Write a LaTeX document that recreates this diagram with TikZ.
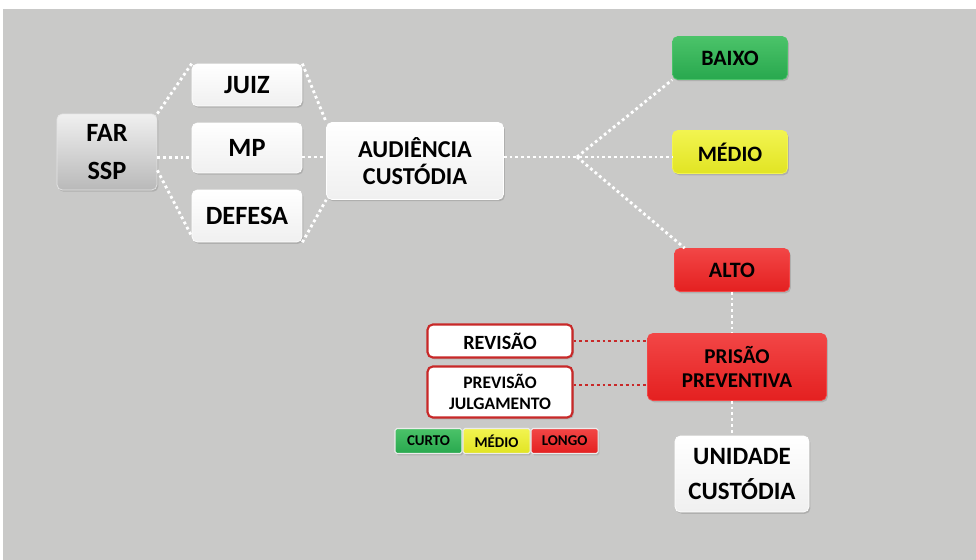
\documentclass[tikz,border=0pt]{standalone}
\usepackage{fontspec}
\setmainfont{Carlito}
\usetikzlibrary{positioning, shadows}
\definecolor{fundo}{RGB}{201,201,200}
\definecolor{verde}{RGB}{40,168,78}
\definecolor{verdeclaro}{RGB}{75,195,105}
\definecolor{amarelo}{RGB}{225,228,35}
\definecolor{amareloclaro}{RGB}{242,244,80}
\definecolor{vermelho}{RGB}{228,32,32}
\definecolor{vermelhoclaro}{RGB}{242,70,70}
\definecolor{linhavermelha}{RGB}{200,40,40}
\tikzset{
caixa/.style={rounded corners=3pt, align=center, font=\bfseries, inner sep=1pt,
  drop shadow={opacity=0.35, shadow xshift=0.8pt, shadow yshift=-1pt}}, % base of every box
branca/.style={caixa, top color=white, bottom color=gray!12, draw=white},
cinza/.style={caixa, top color=gray!12, bottom color=gray!55, draw=gray!20},
verdebox/.style={caixa, top color=verdeclaro, bottom color=verde, draw=verdeclaro},
amarelobox/.style={caixa, top color=amareloclaro, bottom color=amarelo, draw=amareloclaro},
vermelhobox/.style={caixa, top color=vermelhoclaro, bottom color=vermelho, draw=vermelhoclaro},
bordavermelha/.style={caixa, fill=white, draw=linhavermelha, line width=1.2pt},
legenda/.style={caixa, rounded corners=1pt, draw=white!85!gray, line width=0.6pt,
  minimum width=1.34cm, minimum height=0.5cm, font=\bfseries\fontsize{8.5}{10}\selectfont},
pontos/.style={draw=white, line width=1.6pt, dash pattern=on 1.6pt off 1.7pt}, % white dotted links
pontosvermelhos/.style={pontos, draw=linhavermelha},
}
\begin{document}
\begin{tikzpicture}[x=0.02cm, y=-0.02cm]
\useasboundingbox (0,0) rectangle (976,560);
\fill[fundo] (3,9) rectangle (976,560);

% left part
\node[cinza, minimum width=2cm, minimum height=1.52cm,
  font=\bfseries\fontsize{15}{22}\selectfont] (far) at (107,152) {FAR\\SSP};
\node[branca, minimum width=2.2cm, minimum height=0.84cm,
  font=\bfseries\fontsize{15}{18}\selectfont] (juiz) at (247,85) {JUIZ};
\node[branca, minimum width=2.2cm, minimum height=1cm,
  font=\bfseries\fontsize{15}{18}\selectfont] (mp) at (247,148) {MP};
\node[branca, minimum width=2.2cm, minimum height=1.04cm,
  font=\bfseries\fontsize{15}{18}\selectfont] (defesa) at (247,216) {DEFESA};
\node[branca, minimum width=3.54cm, minimum height=1.54cm,
  font=\bfseries\fontsize{13.8}{15}\selectfont] (aud) at (415,161) {AUDIÊNCIA\\CUSTÓDIA};

% risk levels
\coordinate (ramo) at (577,157);
\node[verdebox, minimum width=2.3cm, minimum height=0.86cm,
  font=\bfseries\fontsize{12.5}{14}\selectfont] (baixo) at (730,58) {BAIXO};
\node[amarelobox, minimum width=2.3cm, minimum height=0.86cm,
  font=\bfseries\fontsize{12.5}{14}\selectfont] (medio) at (730,152) {MÉDIO};
\node[vermelhobox, minimum width=2.3cm, minimum height=0.86cm,
  font=\bfseries\fontsize{12.5}{14}\selectfont] (alto) at (732,270) {ALTO};

% lower part
\node[vermelhobox, minimum width=3.58cm, minimum height=1.34cm,
  font=\bfseries\fontsize{12}{14}\selectfont] (prisao) at (737,367) {PRISÃO\\PREVENTIVA};
\node[bordavermelha, minimum width=2.9cm, minimum height=0.66cm,
  font=\bfseries\fontsize{11.5}{13}\selectfont] (revisao) at (500,341) {REVISÃO};
\node[bordavermelha, minimum width=2.9cm, minimum height=1.02cm,
  font=\bfseries\fontsize{10}{12}\selectfont] (previsao) at (500,392) {PREVISÃO\\JULGAMENTO};
\node[branca, minimum width=2.68cm, minimum height=1.52cm,
  font=\bfseries\fontsize{14.2}{19.5}\selectfont] (unidade) at (742,474) {UNIDADE\\CUSTÓDIA};

% legend
\node[legenda, top color=verdeclaro, bottom color=verde] (curto) at (428.5,441) {CURTO};
\node[legenda, top color=amareloclaro, bottom color=amarelo, right=0pt of curto] (medioleg) {MÉDIO};
\node[legenda, top color=vermelhoclaro, bottom color=vermelho, right=0pt of medioleg] (longo) {LONGO};

% links
\draw[pontos] (far.north east) -- (juiz.north west);
\draw[pontos] (far.-6) -- (mp.west |- far.-6);
\draw[pontos] (far.-20) -- (defesa.200);
\draw[pontos] (juiz.north east) -- (aud.north west);
\draw[pontos] (mp.east |- ramo) -- (aud.west |- ramo);
\draw[pontos] (defesa.south east) -- (aud.south west);
\draw[pontos] (aud.east |- ramo) -- (ramo) -- (medio.west |- ramo);
\draw[pontos] (ramo) -- (baixo.south west);
\draw[pontos] (ramo) -- ([xshift=6pt]alto.north west);
\draw[pontos] (alto.south) -- (alto.south |- prisao.north);
\draw[pontos] (prisao.south -| alto.south) -- (unidade.north -| alto.south);
\draw[pontosvermelhos] (revisao.east) -- (prisao.west |- revisao.east);
\draw[pontosvermelhos] ([yshift=4pt]previsao.east) -- ([yshift=4pt]prisao.west |- previsao.east);
\end{tikzpicture}
\end{document}
